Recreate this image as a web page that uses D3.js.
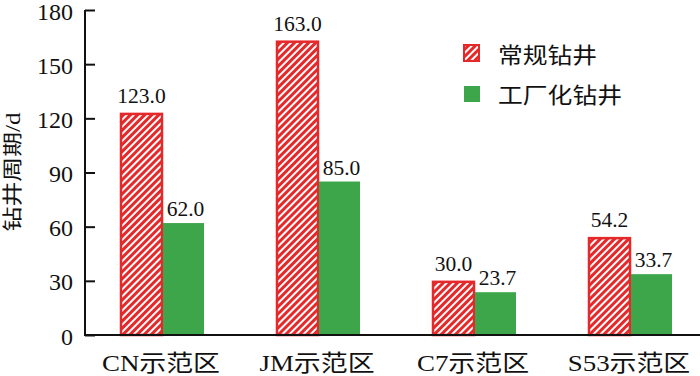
<!DOCTYPE html>
<html>
<head>
<meta charset="utf-8">
<script src="https://cdn.jsdelivr.net/npm/d3@7"></script>
<style>
body { margin: 0; background: #fff; }
text { font-family: "Liberation Serif", "Times New Roman", "Noto Sans CJK SC", serif; fill: #111; }
</style>
</head>
<body>
<div id="container"></div>
<script>
var categories = ["CN示范区", "JM示范区", "C7示范区", "S53示范区"];
var seriesNames = ["常规钻井", "工厂化钻井"];
var conventional = [123.0, 163.0, 30.0, 54.2];
var factory = [62.0, 85.0, 23.7, 33.7];
var yTicks = [0, 30, 60, 90, 120, 150, 180];

var w = 700, h = 376;
var mLeft = 85, mTop = 10, mBottom = 335;
var red = "#e5282a", green = "#3da64a";

var svg = d3.select("#container").append("svg").attr("width", w).attr("height", h);

var defs = svg.append("defs");
var pat = defs.append("pattern")
	.attr("id", "hatch")
	.attr("patternUnits", "userSpaceOnUse")
	.attr("width", 5)
	.attr("height", 5)
	.attr("patternTransform", "rotate(45)");
pat.append("rect").attr("width", 5).attr("height", 5).attr("fill", red);
pat.append("rect").attr("x", 0).attr("width", 2).attr("height", 5).attr("fill", "white");

var x = d3.scaleBand().domain(categories).range([mLeft, mLeft + 4 * 156]);
var y = d3.scaleLinear().domain([0, 180]).range([mBottom, mTop]);
var bw = 41;

// bars
var g = svg.append("g");
categories.forEach(function(c, i) {
	var cx = x(c) + x.bandwidth() / 2;
	g.append("rect")
		.attr("x", cx - bw - 1)
		.attr("y", y(conventional[i]) + 1)
		.attr("width", bw)
		.attr("height", y(0) - y(conventional[i]) - 1)
		.attr("fill", "url(#hatch)")
		.attr("stroke", red)
		.attr("stroke-width", 2.5);
	g.append("rect")
		.attr("x", cx)
		.attr("y", y(factory[i]))
		.attr("width", bw)
		.attr("height", y(0) - y(factory[i]))
		.attr("fill", green);
	g.append("text")
		.attr("x", cx - bw / 2 - 1)
		.attr("y", y(conventional[i]) - 10)
		.attr("text-anchor", "middle")
		.attr("font-size", 21.5)
		.text(conventional[i].toFixed(1));
	g.append("text")
		.attr("x", cx + bw / 2 + 2)
		.attr("y", y(factory[i]) - 7)
		.attr("text-anchor", "middle")
		.attr("font-size", 21.5)
		.text(factory[i].toFixed(1));
});

// y axis
var yAxis = svg.append("g")
	.attr("transform", "translate(" + mLeft + ",0)")
	.call(d3.axisRight(y).tickValues(yTicks).tickSize(10).tickFormat(d3.format("d")));
yAxis.select(".domain").attr("stroke", "#111").attr("stroke-width", 2).attr("d", "M0," + mTop + "V" + mBottom);
yAxis.selectAll(".tick line").attr("stroke", "#111").attr("stroke-width", 2);
yAxis.selectAll(".tick text")
	.attr("x", -12)
	.attr("dy", "0.38em")
	.attr("text-anchor", "end")
	.attr("font-size", 24)
	.attr("fill", "#111")
	.style("font-family", "Liberation Serif, serif");

// x axis line
svg.append("line")
	.attr("x1", mLeft - 1).attr("x2", w)
	.attr("y1", mBottom).attr("y2", mBottom)
	.attr("stroke", "#111").attr("stroke-width", 2);

svg.selectAll(".cat")
	.data(categories)
	.enter()
	.append("text")
	.attr("class", "cat")
	.attr("transform", function(d) { return "translate(" + (x(d) + x.bandwidth() / 2 - 2) + ",371) scale(1.17,1)"; })
	.attr("text-anchor", "middle")
	.attr("font-size", 23)
	.text(function(d) { return d; });

// y title
svg.append("text")
	.attr("transform", "translate(20,172) rotate(-90)")
	.attr("text-anchor", "middle")
	.attr("font-size", 20)
	.attr("textLength", 119)
	.attr("lengthAdjust", "spacingAndGlyphs")
	.text("钻井周期/d");

// legend
var legLen = [99, 124];
var leg = svg.append("g");
leg.append("rect").attr("x", 464).attr("y", 45).attr("width", 15).attr("height", 16)
	.attr("fill", "url(#hatch)").attr("stroke", red).attr("stroke-width", 2);
leg.append("rect").attr("x", 464).attr("y", 86).attr("width", 16).attr("height", 16).attr("fill", green);
leg.selectAll(".legtext")
	.data(seriesNames)
	.enter()
	.append("text")
	.attr("x", 498)
	.attr("y", function(d, i) { return 55 + 40 * i; })
	.attr("dy", "0.35em")
	.attr("font-size", 22)
	.attr("textLength", function(d, i) { return legLen[i]; })
	.attr("lengthAdjust", "spacingAndGlyphs")
	.text(function(d) { return d; });
</script>
</body>
</html>
